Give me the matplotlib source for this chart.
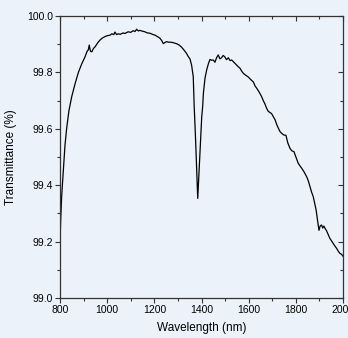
import matplotlib
matplotlib.use("Agg")
import matplotlib.pyplot as plt
from matplotlib.ticker import MultipleLocator

wavelength = [800, 803, 807, 814, 821, 828, 838, 850, 864, 878, 892, 906, 915, 920, 924, 929, 935, 942, 949, 960,
              970, 980, 991, 1000, 1012, 1020, 1028, 1033, 1040, 1047, 1055, 1068, 1075, 1089, 1100, 1110, 1118, 1125,
              1132, 1139, 1150, 1160, 1170, 1181, 1192, 1203, 1215, 1224, 1232, 1238, 1245, 1252, 1262, 1273, 1285,
              1294, 1305, 1315, 1325, 1336, 1344, 1351, 1358, 1365, 1369, 1375, 1380, 1384, 1389, 1396, 1401, 1405,
              1408, 1415, 1422, 1429, 1436, 1443, 1450, 1457, 1464, 1471, 1478, 1485, 1492, 1499, 1506, 1514, 1521,
              1528, 1535, 1542, 1549, 1556, 1563, 1570, 1577, 1584, 1591, 1598, 1605, 1612, 1620, 1627, 1634, 1641,
              1648, 1655, 1662, 1669, 1676, 1683, 1690, 1697, 1705, 1712, 1719, 1726, 1733, 1740, 1749, 1758, 1766,
              1775, 1783, 1792, 1801, 1810, 1818, 1825, 1835, 1846, 1853, 1860, 1867, 1874, 1880, 1886, 1892, 1898,
              1903, 1909, 1914, 1919, 1925, 1930, 1937, 1944, 1951, 1958, 1965, 1973, 1980, 1987, 1994, 2000]
transmittance = [99.19, 99.28, 99.36, 99.45, 99.54, 99.60, 99.665, 99.715, 99.76, 99.80, 99.83, 99.855, 99.875,
                 99.88, 99.897, 99.875, 99.873, 99.885, 99.891, 99.905, 99.915, 99.922, 99.927, 99.93, 99.932,
                 99.937, 99.934, 99.943, 99.934, 99.937, 99.935, 99.940, 99.938, 99.944, 99.942, 99.948, 99.945,
                 99.953, 99.947, 99.949, 99.946, 99.944, 99.940, 99.939, 99.935, 99.932, 99.926, 99.921, 99.912,
                 99.902, 99.906, 99.909, 99.907, 99.907, 99.904, 99.902, 99.897, 99.89, 99.88, 99.868, 99.856,
                 99.848, 99.826, 99.785, 99.68, 99.56, 99.44, 99.353, 99.44, 99.56, 99.643, 99.68, 99.726, 99.78,
                 99.809, 99.83, 99.846, 99.843, 99.844, 99.836, 99.852, 99.862, 99.848, 99.852, 99.86, 99.855,
                 99.845, 99.852, 99.842, 99.844, 99.838, 99.832, 99.826, 99.82, 99.815, 99.805, 99.797, 99.792,
                 99.788, 99.784, 99.778, 99.772, 99.766, 99.752, 99.744, 99.735, 99.725, 99.714, 99.700, 99.688,
                 99.673, 99.662, 99.658, 99.654, 99.642, 99.632, 99.615, 99.602, 99.590, 99.584, 99.578, 99.577,
                 99.55, 99.531, 99.522, 99.519, 99.498, 99.478, 99.468, 99.460, 99.447, 99.430, 99.415, 99.395,
                 99.375, 99.359, 99.335, 99.312, 99.275, 99.24, 99.255, 99.259, 99.248, 99.255, 99.245, 99.239,
                 99.225, 99.212, 99.203, 99.194, 99.185, 99.176, 99.166, 99.158, 99.155, 99.148]
x_ticks = [800, 1000, 1200, 1400, 1600, 1800, 2000]
y_ticks = [99.0, 99.2, 99.4, 99.6, 99.8, 100.0]

bg = "#ebf2fa"
plt.rcParams["font.family"] = ["Liberation Sans", "DejaVu Sans"]

fig = plt.figure(figsize=(3.48, 3.38), dpi=100, facecolor=bg)
ax = fig.add_axes([60 / 348, 1 - 298 / 338, 283 / 348, 282 / 338], facecolor=bg)
ax.plot(wavelength, transmittance, color="black", lw=0.9)

ax.set_xlim(800, 2000)
ax.set_ylim(99.0, 100.0)
ax.set_xticks(x_ticks)
ax.set_xticklabels([str(v) for v in x_ticks])
ax.set_yticks(y_ticks)
ax.set_yticklabels([f"{v:.1f}" for v in y_ticks])
ax.xaxis.set_minor_locator(MultipleLocator(100))
ax.yaxis.set_minor_locator(MultipleLocator(0.1))

for s in ax.spines.values():
    s.set_color("#333333")
    s.set_linewidth(0.9)

ax.tick_params(which="both", direction="out", colors="#333333", labelcolor="black", labelsize=7.5, width=0.8)
ax.tick_params(which="major", length=3.5, pad=1.5)
ax.tick_params(which="minor", length=2)

# mirrored inward ticks on top and right
axt = ax.secondary_xaxis("top")
axt.set_xticks(x_ticks)
axt.xaxis.set_minor_locator(MultipleLocator(100))
axt.tick_params(which="both", direction="in", labeltop=False, colors="#333333", width=0.8)
axt.tick_params(which="major", length=3.5)
axt.tick_params(which="minor", length=2)
axr = ax.secondary_yaxis("right")
axr.set_yticks(y_ticks)
axr.yaxis.set_minor_locator(MultipleLocator(0.1))
axr.tick_params(which="both", direction="in", labelright=False, colors="#333333", width=0.8)
axr.tick_params(which="major", length=3.5)
axr.tick_params(which="minor", length=2)
axt.spines["top"].set_visible(False)
axr.spines["right"].set_visible(False)

ax.set_xlabel("Wavelength (nm)", fontsize=8.5, labelpad=5)
ax.set_ylabel("Transmittance (%)", fontsize=8.5, labelpad=7)

fig.savefig("out.png", dpi=100, facecolor=bg)
